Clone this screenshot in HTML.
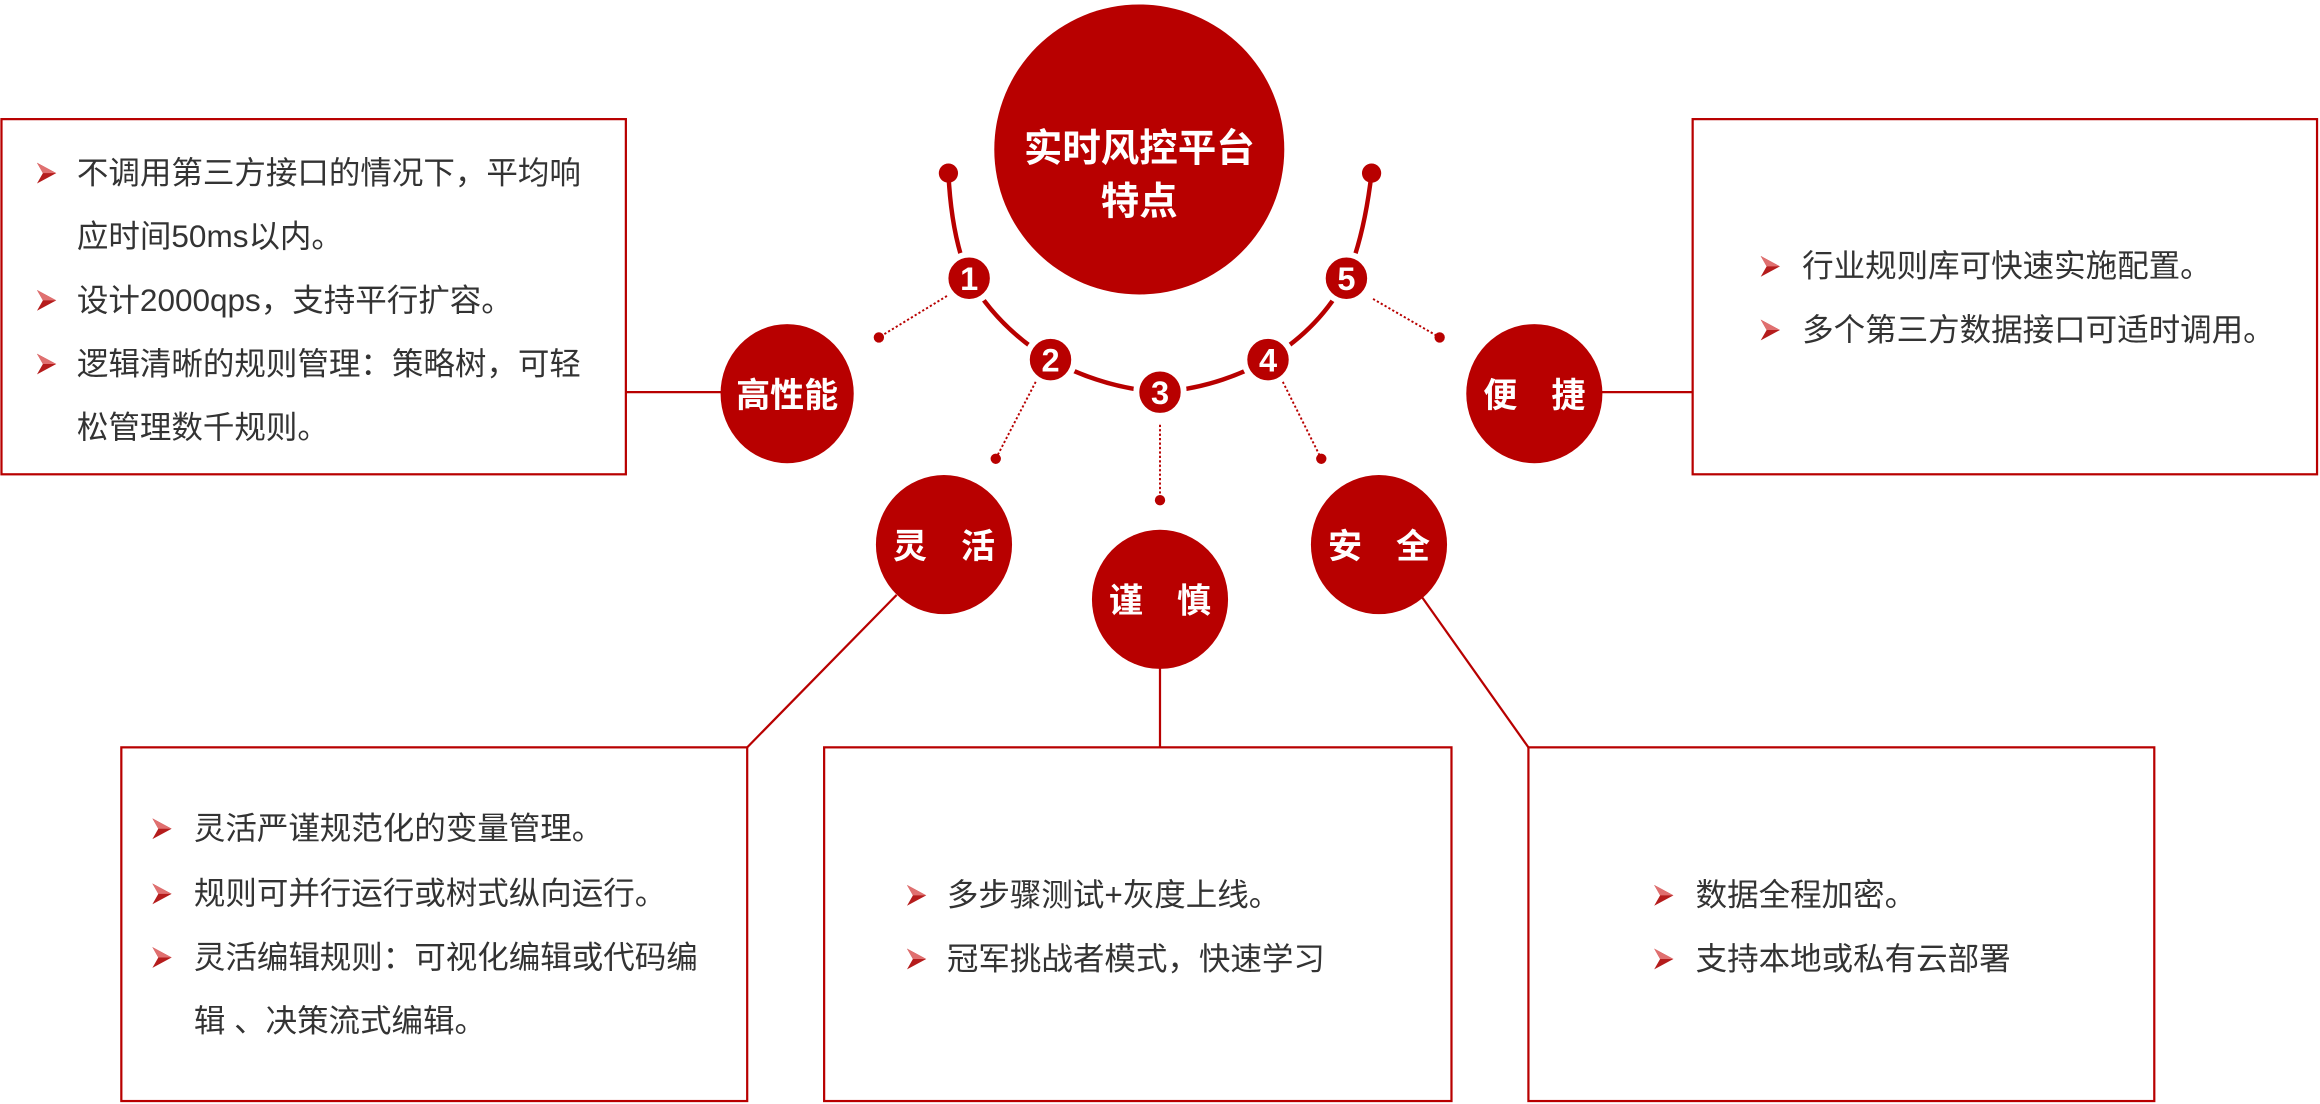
<!DOCTYPE html>
<html><head><meta charset="utf-8"><style>
html,body{margin:0;padding:0;background:#fff;}
svg{display:block;}
text{font-family:"Liberation Sans","Noto Sans CJK SC",sans-serif;}
.t{fill:#333;font-size:21.3px;}
.w{fill:#fff;}
</style></head><body>
<svg width="2320" height="1104" viewBox="0 0 1568 746" preserveAspectRatio="none" xmlns="http://www.w3.org/2000/svg">
<defs>
<g id="b"><polygon points="0,-7 13,0 0,7 4,0" fill="#b51c1c"/><polygon points="0,-7 13,0 4,0" fill="#e07070"/></g>
</defs>
<g fill="none" stroke="#b80000" stroke-width="1.5">
<rect x="1" y="80.5" width="422" height="240"/>
<rect x="1144" y="80.5" width="422" height="240"/>
<rect x="82" y="505" width="423" height="239"/>
<rect x="557" y="505" width="424" height="239"/>
<rect x="1033" y="505" width="423" height="239"/>
<line x1="423" y1="265" x2="490" y2="265"/>
<line x1="1080" y1="265" x2="1144" y2="265"/>
<line x1="606" y1="402" x2="505" y2="505"/>
<line x1="784" y1="448" x2="784" y2="505"/>
<line x1="960" y1="402" x2="1033" y2="505"/>
</g>
<path d="M641,117 Q643,160 655,188 Q675,222 710,243 Q745,262 784,265 Q823,262 857,243 Q892,222 910,188 Q922,160 927,117" fill="none" stroke="#b80000" stroke-width="3"/>
<g stroke="#b80000" stroke-width="1.3" stroke-dasharray="1.5,1.5" fill="none">
<line x1="640" y1="200" x2="594" y2="228"/>
<line x1="700" y1="258" x2="673" y2="310"/>
<line x1="784" y1="287" x2="784" y2="338"/>
<line x1="867" y1="258" x2="893" y2="310"/>
<line x1="928" y1="202" x2="973" y2="228"/>
</g>
<g fill="#b80000">
<circle cx="594" cy="228" r="3.5"/><circle cx="673" cy="310" r="3.5"/><circle cx="784" cy="338" r="3.5"/><circle cx="893" cy="310" r="3.5"/><circle cx="973" cy="228" r="3.5"/>
<circle cx="641" cy="117" r="6.5"/><circle cx="927" cy="117" r="6.5"/>
<circle cx="770" cy="101" r="98"/>
<ellipse cx="532" cy="266" rx="45" ry="47"/>
<ellipse cx="638" cy="368" rx="46" ry="47"/>
<ellipse cx="784" cy="405" rx="46" ry="47"/>
<ellipse cx="932" cy="368" rx="46" ry="47"/>
<ellipse cx="1037" cy="266" rx="46" ry="47"/>
</g>
<g fill="#b80000" stroke="#fff" stroke-width="4">
<circle cx="655" cy="188" r="16"/><circle cx="710" cy="243" r="16"/><circle cx="784" cy="265" r="16"/><circle cx="857" cy="243" r="16"/><circle cx="910" cy="188" r="16"/>
</g>
<g class="w" font-size="22" font-weight="bold" text-anchor="middle">
<text x="655" y="196">1</text><text x="710" y="251">2</text><text x="784" y="273">3</text><text x="857" y="251">4</text><text x="910" y="196">5</text>
</g>
<g class="w" text-anchor="middle" font-size="26" font-weight="bold">
<text x="770" y="109">实时风控平台</text>
<text x="770" y="145">特点</text>
</g>
<g class="w" text-anchor="middle" font-size="23" font-weight="bold">
<text x="532" y="275">高性能</text>
<text x="638" y="377">灵　活</text>
<text x="784" y="414">谨　慎</text>
<text x="932" y="377">安　全</text>
<text x="1037" y="275">便　捷</text>
</g>
<g class="t">
<use href="#b" x="25" y="117"/><text x="52" y="124">不调用第三方接口的情况下，平均响</text>
<text x="52" y="167">应时间50ms以内。</text>
<use href="#b" x="25" y="203"/><text x="52" y="210">设计2000qps，支持平行扩容。</text>
<use href="#b" x="25" y="246"/><text x="52" y="253">逻辑清晰的规则管理：策略树，可轻</text>
<text x="52" y="296">松管理数千规则。</text>

<use href="#b" x="1190" y="180"/><text x="1218" y="187">行业规则库可快速实施配置。</text>
<use href="#b" x="1190" y="223"/><text x="1218" y="230">多个第三方数据接口可适时调用。</text>

<use href="#b" x="103" y="560"/><text x="131" y="567">灵活严谨规范化的变量管理。</text>
<use href="#b" x="103" y="604"/><text x="131" y="611">规则可并行运行或树式纵向运行。</text>
<use href="#b" x="103" y="647"/><text x="131" y="654">灵活编辑规则：可视化编辑或代码编</text>
<text x="131" y="697">辑 、决策流式编辑。</text>

<use href="#b" x="613" y="605"/><text x="640" y="612">多步骤测试+灰度上线。</text>
<use href="#b" x="613" y="648"/><text x="640" y="655">冠军挑战者模式，快速学习</text>

<use href="#b" x="1118" y="605"/><text x="1146" y="612">数据全程加密。</text>
<use href="#b" x="1118" y="648"/><text x="1146" y="655">支持本地或私有云部署</text>
</g>
</svg>
</body></html>
